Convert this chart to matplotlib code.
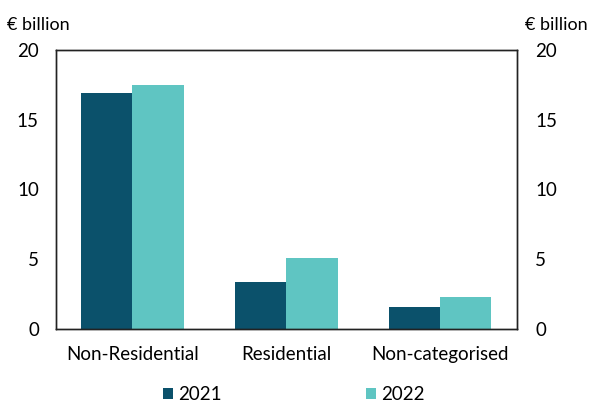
import matplotlib.pyplot as plt
import numpy as np

plt.rcParams['font.family'] = ['Lato', 'DejaVu Sans']

categories = ["Non-Residential", "Residential", "Non-categorised"]
years = ["2021", "2022"]
values_2021 = [16.9, 3.37, 1.58]
values_2022 = [17.5, 5.05, 2.25]
colors = ["#0b516b", "#5fc5c2"]

fig = plt.figure(figsize=(5.91, 4.03), dpi=100)
ax = fig.add_axes([0.094, 0.184, 0.781, 0.692])

x = np.arange(len(categories))
w = 1 / 3
ax.bar(x - w / 2, values_2021, w, color=colors[0], label=years[0])
ax.bar(x + w / 2, values_2022, w, color=colors[1], label=years[1])

ax.set_xlim(-0.5, 2.5)
ax.set_ylim(0, 20)
ax.set_yticks([0, 5, 10, 15, 20])
ax.set_xticks(x)
ax.set_xticklabels(categories)
ax.tick_params(axis='x', length=0, labelsize=13.5, pad=12)
ax.tick_params(axis='y', length=0, labelsize=13.5, pad=12)

ax2 = ax.twinx()
ax2.set_ylim(0, 20)
ax2.set_yticks([0, 5, 10, 15, 20])
ax2.tick_params(axis='y', length=0, labelsize=13.5, pad=13)

for a in (ax, ax2):
    for s in a.spines.values():
        s.set_linewidth(1.0)
        s.set_color("#222222")

fig.text(0.012, 0.938, "€ billion", fontsize=13, ha='left', va='center')
fig.text(0.888, 0.938, "€ billion", fontsize=13, ha='left', va='center')

handles, labels = ax.get_legend_handles_labels()
fig.legend(handles, labels, loc='center', bbox_to_anchor=(0.497, 0.02), ncol=2,
           frameon=False, fontsize=13.5, handlelength=0.55, handleheight=0.55,
           handletextpad=0.3, columnspacing=7.65, borderpad=0)

fig.savefig("out.png", dpi=100)
